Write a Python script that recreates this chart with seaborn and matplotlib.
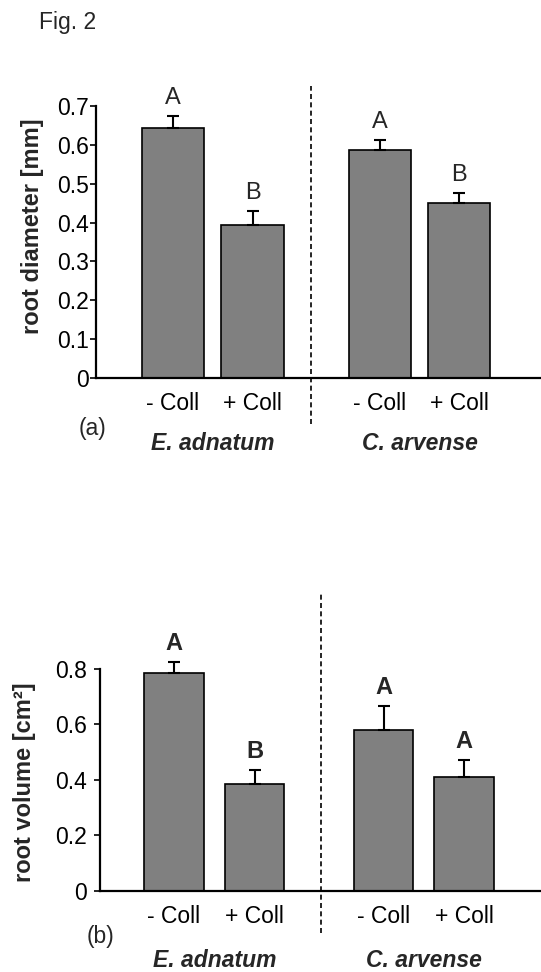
import numpy as np
import pandas as pd
import matplotlib
matplotlib.use("Agg")
import matplotlib.pyplot as plt
import seaborn as sns

# Species and treatments
species = ["E. adnatum", "C. arvense"]
treatments = ["- Coll", "+ Coll"]

# (a) root diameter [mm]: means, standard errors, significance letters
diam_mean = [0.643, 0.394, 0.586, 0.451]
diam_err = [0.031, 0.036, 0.026, 0.024]
diam_letters = ["A", "B", "A", "B"]

# (b) root volume [cm²]: means, standard errors, significance letters
vol_mean = [0.783, 0.385, 0.579, 0.411]
vol_err = [0.041, 0.050, 0.086, 0.060]
vol_letters = ["A", "B", "A", "A"]

diam_ticks = [0, 0.1, 0.2, 0.3, 0.4, 0.5, 0.6, 0.7]
vol_ticks = [0, 0.2, 0.4, 0.6, 0.8]

sns.set_theme(style="white")
plt.rcParams["font.family"] = ["Liberation Sans", "DejaVu Sans"]

W, H = 541, 972
fig = plt.figure(figsize=(W / 100, H / 100), dpi=100)

GROUP_STEP = 2.6  # distance between the first bars of the two species


def frame(means, errs, letters):
    rows = []
    for i, (m, e, l) in enumerate(zip(means, errs, letters)):
        s, t = divmod(i, 2)
        rows.append(dict(species=species[s], treatment=treatments[t],
                         pos=s * GROUP_STEP + t, mean=m, err=e, letter=l))
    return pd.DataFrame(rows)


def panel(rect, df, ticks, ylabel, ylab_xy, tag, tag_xy, tick_pad,
          bar_width, divider_x, divider_y, letter_weight, species_off):
    ax = fig.add_axes([rect[0] / W, 1 - rect[3] / H,
                       (rect[2] - rect[0]) / W, (rect[3] - rect[1]) / H])
    sns.barplot(data=df, x="pos", y="mean", native_scale=True,
                width=bar_width, color="#808080", saturation=1,
                edgecolor="black", linewidth=1.2, errorbar=None, ax=ax)
    eb = ax.errorbar(df["pos"], df["mean"],
                     yerr=[np.zeros(len(df)), df["err"]],
                     fmt="none", ecolor="black", elinewidth=1.5,
                     capsize=4, capthick=1.5, zorder=1)
    for art in list(eb.lines[1]) + list(eb.lines[2]):
        art.set_clip_on(False)
    for x, top, l in zip(df["pos"], df["mean"] + df["err"], df["letter"]):
        ax.annotate(l, (x, top), xytext=(0, 5), textcoords="offset points",
                    ha="center", va="bottom", fontsize=17,
                    fontweight=letter_weight, annotation_clip=False)

    ax.set_ylim(0, ticks[-1])
    ax.set_yticks(ticks)
    ax.set_yticklabels(["0" if t == 0 else f"{t:g}" for t in ticks])
    ax.set_xticks(df["pos"])
    ax.set_xticklabels(df["treatment"])
    ax.set_xlabel("")
    ax.set_ylabel("")
    ax.tick_params(axis="y", direction="out", length=4.5, width=1.2,
                   pad=tick_pad, labelsize=16.5, colors="black", left=True)
    ax.tick_params(axis="x", length=0, pad=10, labelsize=16.5, colors="black")
    for side in ("top", "right"):
        ax.spines[side].set_visible(False)
    for side in ("left", "bottom"):
        ax.spines[side].set_color("black")
        ax.spines[side].set_linewidth(1.6)
    ax.set_facecolor("none")

    # Pixel -> data conversion for the x range: the first bar centre and the
    # spacing between neighbouring bars set where the axes edges fall.
    first_px, unit_px = rect[4], rect[5]
    ax.set_xlim((rect[0] - first_px) / unit_px, (rect[2] - first_px) / unit_px)

    # Dashed divider between the two species
    ax.plot([divider_x, divider_x], divider_y, color="black", lw=1.2,
            ls=(0, (3, 2)), clip_on=False)

    # Species names under each pair of bars
    for sp, g in df.groupby("species", sort=False):
        ax.annotate(sp, (g["pos"].mean(), 0), xytext=(0, -species_off),
                    textcoords="offset points", ha="center", va="center",
                    fontsize=16.5, fontweight="bold", fontstyle="italic",
                    annotation_clip=False)

    fig.text(ylab_xy[0] / W, 1 - ylab_xy[1] / H, ylabel, rotation=90,
             ha="center", va="center", fontsize=17, fontweight="bold")
    fig.text(tag_xy[0] / W, 1 - tag_xy[1] / H, tag, ha="center",
             va="center", fontsize=16.5)
    return ax


df_a = frame(diam_mean, diam_err, diam_letters)
df_b = frame(vol_mean, vol_err, vol_letters)

# rect: left, top, right, bottom (pixels), first bar centre px, px per unit
panel((96, 106, 541, 378, 173, 79.5), df_a, diam_ticks,
      "root diameter [mm]", (33, 226), "(a)", (92, 428), 0.5, 0.78,
      1.73, [-0.118, 0.751], "normal", 47)
panel((100, 668.7, 541, 891, 174, 80.6), df_b, vol_ticks,
      "root volume [cm²]", (25, 782), "(b)", (101, 936), 5, 0.74,
      1.82, [-0.151, 1.068], "bold", 50)

fig.text(39 / W, 1 - 23 / H, "Fig. 2", ha="left", va="center", fontsize=16.5)

fig.savefig("out.png", dpi=100)
